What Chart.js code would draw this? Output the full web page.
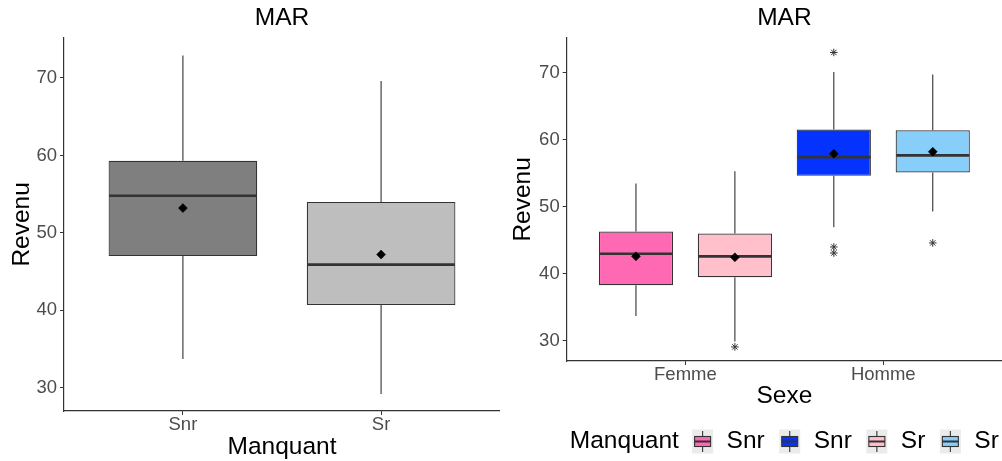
<!DOCTYPE html>
<html>
<head>
<meta charset="utf-8">
<title>MAR - Revenu</title>
<script src="https://cdn.jsdelivr.net/npm/chart.js"></script>
<style>
  body { margin: 0; background: #fff; }
  .panel { position: absolute; top: 0; }
  canvas { display: block; }
</style>
</head>
<body>
<div class="panel" style="left:0"><canvas id="leftChart" width="500" height="461"></canvas></div>
<div class="panel" style="left:500px"><canvas id="rightChart" width="502" height="461"></canvas></div>

<script>
const FONT = '"Liberation Sans", Arial, sans-serif';

// shared y axis
const yTicks = [30, 40, 50, 60, 70];
const yMin = 27.0;
const yMax = 75.2;

// left panel: Revenu by Manquant
const manquant = ['Snr', 'Sr'];
const leftLow = [33.7, 29.2];
const leftQ1 = [47.0, 40.7];
const leftMed = [54.8, 45.9];
const leftQ3 = [59.3, 54.0];
const leftHigh = [72.9, 69.6];
const leftMean = [53.2, 47.2];
const leftColors = ['#7F7F7F', '#BEBEBE'];

// right panel: Revenu by Sexe, split by Manquant
const sexes = ['Femme', 'Homme'];
const snrLow = [33.7, 46.95];
const snrQ1 = [38.3, 54.6];
const snrMed = [43.0, 57.4];
const snrQ3 = [46.3, 61.5];
const snrHigh = [53.45, 70.1];
const snrMean = [42.6, 57.9];
const snrOut = [[], [73.0, 44.0, 43.1]];
const snrColors = ['#FF69B4', '#0433FF'];

const srLow = [29.9, 49.3];
const srQ1 = [39.5, 55.1];
const srMed = [42.6, 57.65];
const srQ3 = [46.0, 61.4];
const srHigh = [55.3, 69.7];
const srMean = [42.45, 58.2];
const srOut = [[29.1], [44.6]];
const srColors = ['#FFC0CB', '#87CEFA'];

const dodge = [-0.25, 0.25];

Chart.defaults.font.family = FONT;

// whiskers behind each box, median line on top of it
const boxStats = {
  id: 'boxStats',
  beforeDatasetDraw(chart, args) {
    const st = chart.data.datasets[args.index].stats;
    if (!st) return;
    const y = chart.scales.y;
    const ctx = chart.ctx;
    ctx.save();
    ctx.strokeStyle = '#333';
    ctx.lineWidth = 1.1;
    args.meta.data.forEach((bar, i) => {
      const top = Math.min(bar.y, bar.base);
      const bottom = Math.max(bar.y, bar.base);
      ctx.beginPath();
      ctx.moveTo(bar.x, y.getPixelForValue(st.high[i]));
      ctx.lineTo(bar.x, top);
      ctx.moveTo(bar.x, bottom);
      ctx.lineTo(bar.x, y.getPixelForValue(st.low[i]));
      ctx.stroke();
    });
    ctx.restore();
  },
  afterDatasetDraw(chart, args) {
    const st = chart.data.datasets[args.index].stats;
    if (!st) return;
    const y = chart.scales.y;
    const ctx = chart.ctx;
    ctx.save();
    ctx.strokeStyle = '#333';
    ctx.lineWidth = 2.6;
    args.meta.data.forEach((bar, i) => {
      const py = y.getPixelForValue(st.med[i]);
      ctx.beginPath();
      ctx.moveTo(bar.x - bar.width / 2 + 0.6, py);
      ctx.lineTo(bar.x + bar.width / 2 - 0.6, py);
      ctx.stroke();
    });
    ctx.restore();
  }
};

// ggplot style legend: title then boxplot keys, centred under the panel
const boxLegend = {
  id: 'boxLegend',
  afterDraw(chart) {
    const ctx = chart.ctx;
    const area = chart.chartArea;
    const items = [];
    chart.data.datasets.forEach(ds => {
      if (ds.stats) ds.backgroundColor.forEach(c => items.push({ text: ds.label, color: c }));
    });
    ctx.save();
    ctx.font = '24.5px ' + FONT;
    ctx.textBaseline = 'middle';
    ctx.fillStyle = '#000';
    const keyW = 21, keyH = 24, gapTitle = 13.3, gapKey = 13.5, gapItem = 14.5;
    const title = 'Manquant';
    const titleW = ctx.measureText(title).width;
    let total = titleW + gapTitle;
    items.forEach((it, k) => {
      it.w = ctx.measureText(it.text).width;
      total += keyW + gapKey + it.w + (k < items.length - 1 ? gapItem : 0);
    });
    const yc = chart.height - 19.5;
    let x = (area.left + area.right) / 2 - total / 2;
    ctx.fillText(title, x, yc);
    x += titleW + gapTitle;
    items.forEach(it => {
      ctx.fillStyle = '#EBEBEB';
      ctx.fillRect(x, yc - keyH / 2, keyW, keyH);
      ctx.strokeStyle = '#333';
      ctx.lineWidth = 1.1;
      ctx.beginPath();
      ctx.moveTo(x + keyW / 2, yc - 10.5);
      ctx.lineTo(x + keyW / 2, yc + 10.5);
      ctx.stroke();
      ctx.fillStyle = it.color;
      ctx.fillRect(x + 2.5, yc - 5, keyW - 5, 10);
      ctx.strokeRect(x + 2.5, yc - 5, keyW - 5, 10);
      ctx.lineWidth = 2;
      ctx.beginPath();
      ctx.moveTo(x + 2.5, yc);
      ctx.lineTo(x + keyW - 2.5, yc);
      ctx.stroke();
      x += keyW + gapKey;
      ctx.fillStyle = '#000';
      ctx.fillText(it.text, x, yc);
      x += it.w + gapItem;
    });
    ctx.restore();
  }
};

function panelOptions(cats, xTitle, cfg) {
  const tickGrid = { drawOnChartArea: false, drawTicks: true, tickLength: 4, color: '#333', tickColor: '#333', offset: false };
  const axisBorder = { color: '#333', width: 1.2 };
  return {
    responsive: false,
    animation: false,
    events: [],
    layout: { autoPadding: false, padding: { left: 0, right: 0, top: 0, bottom: cfg.bottomPad } },
    plugins: {
      legend: { display: false },
      tooltip: { enabled: false },
      title: {
        display: true, text: 'MAR', color: '#000', fullSize: false,
        font: { size: 24.5, weight: 'normal' },
        padding: { top: 3.6, bottom: 4.7 }
      }
    },
    scales: {
      x: {
        type: 'linear', min: 0.4, max: 2.6, offset: false,
        afterBuildTicks: s => { s.ticks = cats.map((c, i) => ({ value: i + 1 })); },
        afterFit: s => { s.height = cfg.xHeight; },
        ticks: {
          callback: v => cats[v - 1], color: '#4D4D4D', autoSkip: false, maxRotation: 0,
          font: { size: 18.5, lineHeight: 1.1 }, padding: 0
        },
        grid: tickGrid,
        border: axisBorder,
        title: {
          display: true, text: xTitle, color: '#000',
          font: { size: 24.5, lineHeight: 1.1 },
          padding: { top: 0, bottom: cfg.xTitlePad }
        }
      },
      y: {
        type: 'linear', min: yMin, max: yMax, beginAtZero: false,
        afterBuildTicks: s => { s.ticks = yTicks.map(v => ({ value: v })); },
        afterFit: s => { s.width = cfg.yWidth; },
        ticks: { color: '#4D4D4D', font: { size: 18.5 }, padding: 3 },
        grid: tickGrid,
        border: axisBorder,
        title: {
          display: true, text: 'Revenu', color: '#000',
          font: { size: 24.5 },
          padding: { top: cfg.yTitlePad, bottom: 0 }
        }
      }
    }
  };
}

const boxStyle = {
  type: 'bar',
  borderColor: '#333',
  borderWidth: 1.2,
  borderSkipped: false,
  barPercentage: 0.75,
  categoryPercentage: 1,
  order: 3
};
const meanStyle = {
  type: 'scatter', pointStyle: 'rectRot', pointRadius: 4.5,
  backgroundColor: '#000', borderColor: '#000', borderWidth: 0.5, order: 1
};
const outStyle = {
  type: 'scatter', pointStyle: 'star', pointRadius: 3.8,
  borderColor: '#333', borderWidth: 1, order: 2
};

// left chart
new Chart(document.getElementById('leftChart'), {
  type: 'bar',
  data: {
    datasets: [
      Object.assign({}, boxStyle, {
        label: 'Revenu',
        data: manquant.map((c, i) => ({ x: i + 1, y: [leftQ1[i], leftQ3[i]] })),
        backgroundColor: leftColors,
        stats: { low: leftLow, high: leftHigh, med: leftMed }
      }),
      Object.assign({}, meanStyle, {
        label: 'moyenne',
        data: manquant.map((c, i) => ({ x: i + 1, y: leftMean[i] }))
      })
    ]
  },
  options: panelOptions(manquant, 'Manquant', { bottomPad: 0, xHeight: 50, xTitlePad: 0, yWidth: 64, yTitlePad: 7.3 }),
  plugins: [boxStats]
});

// right chart
const groups = [
  { label: 'Snr', q1: snrQ1, q3: snrQ3, low: snrLow, high: snrHigh, med: snrMed, mean: snrMean, out: snrOut, colors: snrColors },
  { label: 'Sr', q1: srQ1, q3: srQ3, low: srLow, high: srHigh, med: srMed, mean: srMean, out: srOut, colors: srColors }
];
const rightSets = [];
groups.forEach((g, k) => {
  rightSets.push(Object.assign({}, boxStyle, {
    label: g.label,
    data: sexes.map((s, i) => ({ x: i + 1, y: [g.q1[i], g.q3[i]] })),
    backgroundColor: g.colors,
    stats: { low: g.low, high: g.high, med: g.med }
  }));
});
groups.forEach((g, k) => {
  rightSets.push(Object.assign({}, meanStyle, {
    label: g.label + ' moyenne',
    data: sexes.map((s, i) => ({ x: i + 1 + dodge[k], y: g.mean[i] }))
  }));
  const outliers = [];
  sexes.forEach((s, i) => g.out[i].forEach(v => outliers.push({ x: i + 1 + dodge[k], y: v })));
  rightSets.push(Object.assign({}, outStyle, { label: g.label + ' extrêmes', data: outliers }));
});

new Chart(document.getElementById('rightChart'), {
  type: 'bar',
  data: { datasets: rightSets },
  options: panelOptions(sexes, 'Sexe', { bottomPad: 49, xHeight: 51, xTitlePad: 1.8, yWidth: 66.7, yTitlePad: 8.6 }),
  plugins: [boxStats, boxLegend]
});
</script>
</body>
</html>
